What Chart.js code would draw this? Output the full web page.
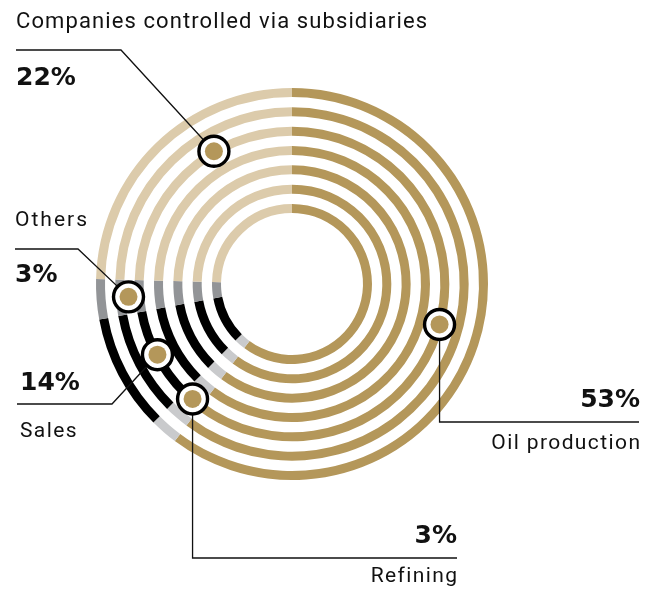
<!DOCTYPE html>
<html>
<head>
<meta charset="utf-8">
<script src="https://cdn.jsdelivr.net/npm/chart.js@4"></script>
<style>
    html, body { margin: 0; padding: 0; background: #fff; overflow: hidden; }
    #wrap { position: relative; width: 657px; height: 589px; }
    #chart { position: absolute; left: 0; top: 0; }
    .name { position: absolute; font-family: Roboto, sans-serif; font-size: 21px; line-height: 21px; color: #111; letter-spacing: 1.4px; white-space: nowrap; }
    .pct { position: absolute; font-family: "DejaVu Sans", sans-serif; font-weight: bold; font-size: 25px; line-height: 25px; color: #111; white-space: nowrap; }
</style>
</head>
<body>
<div id="wrap">
    <canvas id="chart" width="657" height="589"></canvas>
</div>
<script>
    // Categories in drawing order (clockwise from 12 o'clock)
    const categories = ['Oil production', 'Refining', 'Sales', 'Others', 'Companies controlled via subsidiaries'];
    // Percentages printed in the labels
    const shareLabels = ['53%', '3%', '14%', '3%', '22%'];
    // Arc sizes as they are drawn in the picture (they do not follow the printed numbers exactly)
    const arcShares = [60.2, 2.3, 9.6, 3.3, 24.6];
    const colors = ['#b4975a', '#c9cacc', '#000000', '#929497', '#dccbab'];
    const ringCount = 7;

    // Marker placement: fraction along the slice arc, radius from centre
    const markers = [
        { along: 0.486, r: 153 },
        { along: 0.5, r: 152 },
        { along: 0.5, r: 152 },
        { along: 0.5, r: 164 },
        { along: 0.656, r: 154 }
    ];
    // Leader lines: either straight down from the marker then across, or via fixed bend points
    const leaders = [
        { down: 422, to: 639 },
        { down: 558, to: 457 },
        { pts: [[112, 404], [17, 404]] },
        { pts: [[78, 249], [15, 249]] },
        { pts: [[121, 50], [16, 50]] }
    ];
    // Label text placement (baselines)
    const labelPos = [
        { x: 640, align: 'right', nameBase: 450, pctBase: 407 },
        { x: 457, align: 'right', nameBase: 583, pctBase: 543 },
        { x: 20, align: 'left', nameBase: 438, pctBase: 390 },
        { x: 15, align: 'left', nameBase: 227, pctBase: 282, ls: 2 },
        { x: 16, align: 'left', nameBase: 29, pctBase: 85, size: 22, ls: 1.1 }
    ];

    // build rings with transparent spacer rings between them
    const ringWeight = 9, gapWeight = 10.33;
    const datasets = [];
    for (let k = 0; k < ringCount; k++) {
        if (k > 0) {
            datasets.push({ data: [1], backgroundColor: 'rgba(0,0,0,0)', borderWidth: 0, weight: gapWeight });
        }
        datasets.push({ data: arcShares, backgroundColor: colors, borderWidth: 0, weight: ringWeight });
    }

    const markerPlugin = {
        id: 'markers',
        afterDatasetsDraw(chart) {
            const ctx = chart.ctx;
            const arcs = chart.getDatasetMeta(0).data;
            const pos = markers.map((m, i) => {
                const arc = arcs[i];
                const a = arc.startAngle + m.along * (arc.endAngle - arc.startAngle);
                return [arc.x + m.r * Math.cos(a), arc.y + m.r * Math.sin(a)];
            });

            // leader lines
            ctx.save();
            ctx.strokeStyle = '#111';
            ctx.lineWidth = 1.3;
            leaders.forEach((l, i) => {
                const [mx, my] = pos[i];
                ctx.beginPath();
                ctx.moveTo(mx, my);
                if (l.down !== undefined) {
                    ctx.lineTo(mx, l.down);
                    ctx.lineTo(l.to, l.down);
                } else {
                    l.pts.forEach(p => ctx.lineTo(p[0], p[1]));
                }
                ctx.stroke();
            });

            // marker circles
            pos.forEach(([mx, my]) => {
                ctx.beginPath();
                ctx.arc(mx, my, 15, 0, Math.PI * 2);
                ctx.fillStyle = '#fff';
                ctx.fill();
                ctx.lineWidth = 3.4;
                ctx.strokeStyle = '#000';
                ctx.stroke();
                ctx.beginPath();
                ctx.arc(mx, my, 9, 0, Math.PI * 2);
                ctx.fillStyle = colors[0];
                ctx.fill();
            });
            ctx.restore();
        }
    };

    new Chart(document.getElementById('chart'), {
        type: 'doughnut',
        data: { labels: categories, datasets: datasets },
        options: {
            responsive: false,
            animation: false,
            events: [],
            radius: 196,
            cutout: '36.22%',
            layout: { padding: { left: 96, top: 88, right: 169, bottom: 109 } },
            plugins: { legend: { display: false }, tooltip: { enabled: false } }
        },
        plugins: [markerPlugin]
    });

    // text labels as html
    const wrap = document.getElementById('wrap');
    function addText(cls, text, x, align, baseline, size, k, ls) {
        const d = document.createElement('div');
        d.className = cls;
        d.textContent = text;
        d.style.fontSize = size + 'px';
        d.style.lineHeight = size + 'px';
        d.style.letterSpacing = ls + 'px';
        d.style.top = (baseline - k * size) + 'px';
        if (align === 'right') {
            d.style.right = (657 - x - ls) + 'px';
        } else {
            d.style.left = x + 'px';
        }
        wrap.appendChild(d);
    }
    categories.forEach((c, i) => {
        const p = labelPos[i];
        addText('name', c, p.x, p.align, p.nameBase, p.size || 21, 0.8415, p.ls !== undefined ? p.ls : 1.4);
        addText('pct', shareLabels[i], p.x, p.align, p.pctBase, 25, 0.846, 0);
    });
</script>
</body>
</html>
